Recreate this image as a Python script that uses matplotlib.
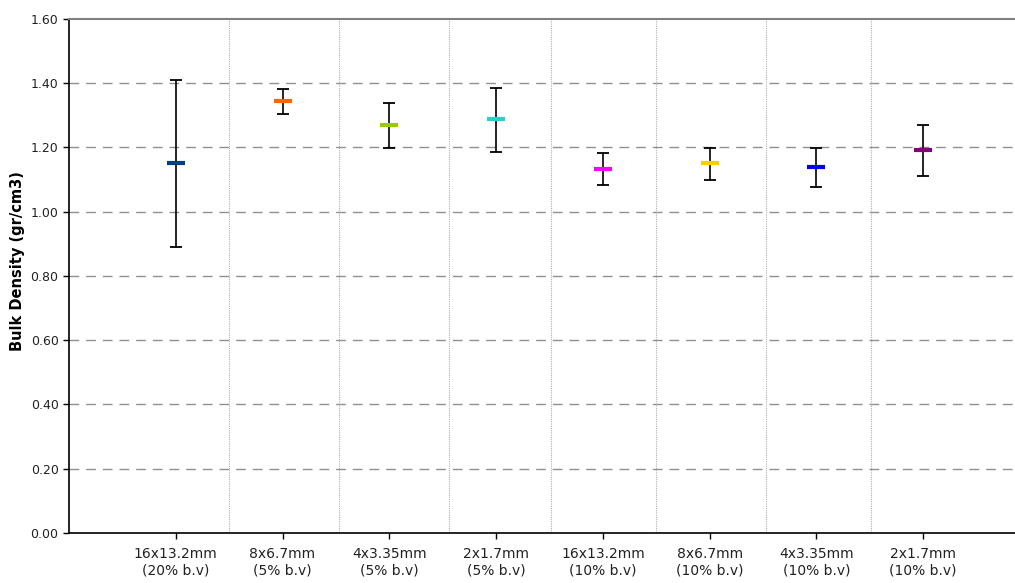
import numpy as np
import matplotlib.pyplot as plt

# dados
categorias = ['16x13.2mm\n(20% b.v)', '8x6.7mm\n(5% b.v)', '4x3.35mm\n(5% b.v)', '2x1.7mm\n(5% b.v)',
              '16x13.2mm\n(10% b.v)', '8x6.7mm\n(10% b.v)', '4x3.35mm\n(10% b.v)', '2x1.7mm\n(10% b.v)']
media = [1.152, 1.345, 1.269, 1.289, 1.134, 1.151, 1.139, 1.191]
maximo = [1.410, 1.383, 1.339, 1.385, 1.184, 1.199, 1.197, 1.271]
minimo = [0.890, 1.303, 1.199, 1.186, 1.083, 1.100, 1.078, 1.110]
cores = ['#004080', '#ff6600', '#99cc00', '#33cccc', '#ff00ff', '#ffcc00', '#0000ff', '#800080']
divisorias = [1.50, 2.53, 3.56, 4.51, 5.50, 6.53, 7.51]

fig = plt.figure(figsize=(10.15, 5.83), dpi=100)
ax = fig.add_axes([0.068, 0.0858, 0.932, 0.8816])

pos = np.arange(1, len(categorias) + 1)

# linhas de grade
for v in np.arange(0.2, 1.6, 0.2):
    ax.axhline(v, color='#909090', lw=1, ls=(0, (7, 5)), zorder=1)
for d in divisorias:
    ax.axvline(d, color='#b0b0b0', lw=0.8, ls=(0, (1, 1)), zorder=1)

for k in range(len(pos)):
    ax.errorbar(pos[k], media[k],
                yerr=[[media[k] - minimo[k]], [maximo[k] - media[k]]],
                fmt='none', ecolor='black', elinewidth=1.2, capsize=4.5, capthick=1.3, zorder=2)
    ax.plot(pos[k], media[k], marker='_', ms=13, mew=3, color=cores[k], zorder=3)

ax.set_xlim(0, 8.86)
ax.set_ylim(0, 1.6)
ax.set_yticks(np.arange(0, 1.61, 0.2))
ax.set_yticklabels(['{:.2f}'.format(v) for v in np.arange(0, 1.61, 0.2)], fontsize=9, color='#222222')
ax.set_xticks(pos)
ax.set_xticklabels(categorias, fontsize=10, color='#222222', linespacing=1.25)
ax.tick_params(axis='both', length=4, width=1, direction='out')
ax.tick_params(axis='x', pad=6)

ax.spines['right'].set_visible(False)
ax.spines['top'].set_color('#808080')
ax.spines['top'].set_linewidth(1.5)
ax.spines['left'].set_linewidth(1.2)
ax.spines['bottom'].set_linewidth(1.2)

ax.set_ylabel('Bulk Density (gr/cm3)', fontsize=10.5, fontweight='bold')
ax.yaxis.set_label_coords(-0.0465, 0.529)

fig.savefig('out.png', dpi=100)
